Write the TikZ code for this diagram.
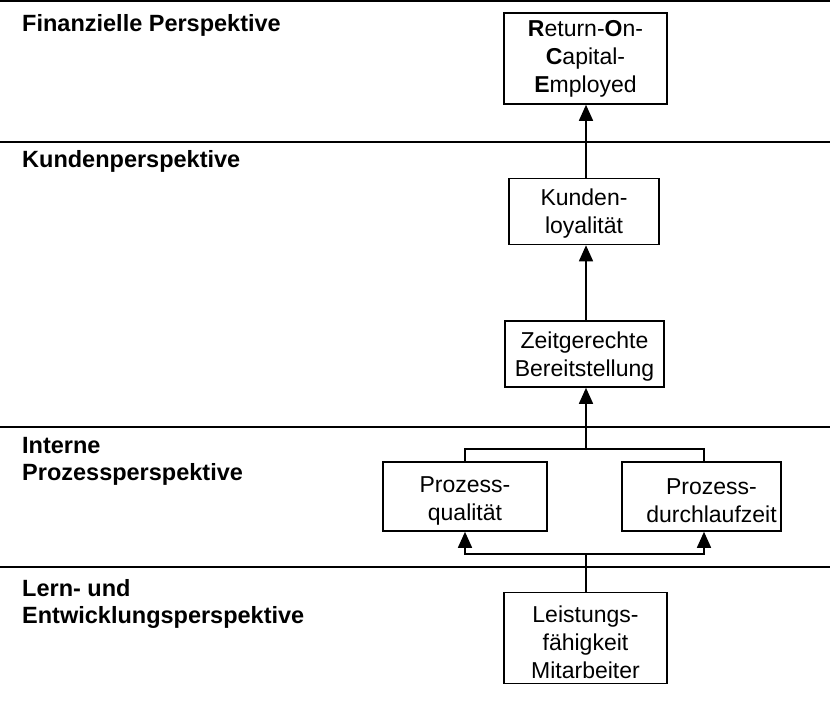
\documentclass[tikz,border=0pt]{standalone}
\usepackage{fontspec}
\setmainfont{Liberation Sans}
\usetikzlibrary{arrows.meta}
% invisible strut that lowers the first line of a box text
\newcommand\boxstrut[1]{\rule{0pt}{#1}}
\begin{document}
\begin{tikzpicture}[x=1pt,y=-1pt,
  every node/.style={font=\fontsize{23}{28}\selectfont},
  box/.style={draw,line width=1.6pt,align=center,inner sep=0pt},
  lane/.style={line width=1.2pt},
  conn/.style={line width=1.6pt},
  arr/.style={conn,-{Triangle[width=14pt,length=16pt]}},
  perspective/.style={anchor=base west,align=left,inner sep=0pt,
    font=\fontsize{23.5}{27}\selectfont\bfseries}]
\useasboundingbox (0,0) rectangle (830,701);

% perspective separators
\draw[line width=2.4pt] (0,1) -- (830,1);
\draw[lane] (0,142) -- (830,142);
\draw[lane] (0,427) -- (830,427);
\draw[lane] (0,567) -- (830,567);

% perspective labels (anchored at the baseline of the last line)
\node[perspective] (lfin) at (22,32) {Finanzielle Perspektive};
\node[perspective] (lkun) at (22,167) {Kundenperspektive};
\node[perspective] (lint) at (22,480) {Interne\\Prozessperspektive};
\node[perspective] (llern) at (22,623) {Lern- und\\Entwicklungsperspektive};

% measures
\node[box,minimum width=163pt,minimum height=91pt] (roce) at (585.5,58.5)
  {\textbf{R}eturn-\textbf{O}n-\\\textbf{C}apital-\\\textbf{E}mployed};
\node[box,minimum width=150pt,minimum height=66pt] (kunden) at (584,211.5)
  {\boxstrut{21pt}Kunden-\\loyalität};
\node[box,minimum width=159pt,minimum height=66pt] (zeit) at (584.5,354)
  {\boxstrut{21pt}Zeitgerechte\\Bereitstellung};
\node[box,minimum width=164pt,minimum height=69pt] (pq) at (465,496.5)
  {\boxstrut{25pt}Prozess-\\qualität};
\node[box,minimum width=159pt,minimum height=69pt] (pd) at (701.5,496.5)
  {\boxstrut{25pt}\hspace*{20pt}Prozess-\\\hspace*{20pt}durchlaufzeit};
\node[box,minimum width=163pt,minimum height=91pt] (leist) at (585.5,638)
  {\boxstrut{25pt}Leistungs-\\fähigkeit\\Mitarbeiter};

% cause-and-effect chain
\coordinate (jtop) at (586,449);
\coordinate (jbot) at (586,554);
\draw[arr] (kunden.north -| 586,0) -- (roce.south -| 586,0);
\draw[arr] (zeit.north -| 586,0) -- (kunden.south -| 586,0);
\draw[conn] (pq.north) |- (jtop) -| (pd.north -| 704,0);
\draw[arr] (jtop) -- (zeit.south -| jtop);
\draw[conn] (leist.north -| jbot) -- (jbot);
\draw[arr] (jbot) -| (pq.south);
\draw[arr] (jbot) -| (pd.south -| 704,0);
\end{tikzpicture}
\end{document}
